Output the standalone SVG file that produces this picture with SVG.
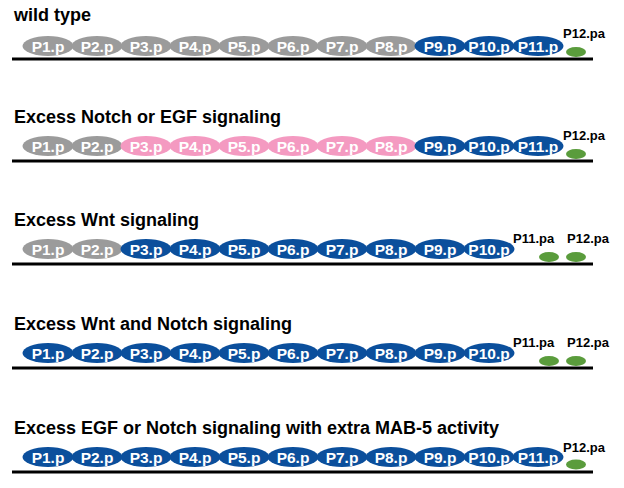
<svg xmlns="http://www.w3.org/2000/svg" width="624" height="488" viewBox="0 0 624 488">
<style>
.t{font-family:"Liberation Sans",Arial,sans-serif;font-weight:bold;font-size:18px;fill:#000}
.c text{font-family:"Liberation Sans",Arial,sans-serif;font-weight:bold;font-size:15.5px;fill:#fff;text-anchor:middle}
.g ellipse{fill:#9b9b9b}
.k ellipse{fill:#f49ac1}
.b ellipse{fill:#0b4f9c}
.gr{fill:#5a9c3c}
.lb{font-family:"Liberation Sans",Arial,sans-serif;font-weight:bold;font-size:13px;fill:#000}
.ln{stroke:#000;stroke-width:3}
</style>
<rect width="624" height="488" fill="#fff"/>
<g id="baselines">
<line class="ln" x1="12" y1="59" x2="593" y2="59"/>
<line class="ln" x1="12" y1="161" x2="593" y2="161"/>
<line class="ln" x1="12" y1="264" x2="593" y2="264"/>
<line class="ln" x1="12" y1="368" x2="593" y2="368"/>
<line class="ln" x1="12" y1="472" x2="593" y2="472"/>
</g>
<g id="row1">
<text class="t" x="14" y="21">wild type</text>
<g class="c g" id="r1-p1"><ellipse cx="48" cy="46" rx="25.5" ry="10"/><text x="48" y="51.5">P1.p</text></g>
<g class="c g" id="r1-p2"><ellipse cx="97" cy="46" rx="25.5" ry="10"/><text x="97" y="51.5">P2.p</text></g>
<g class="c g" id="r1-p3"><ellipse cx="146" cy="46" rx="25.5" ry="10"/><text x="146" y="51.5">P3.p</text></g>
<g class="c g" id="r1-p4"><ellipse cx="195" cy="46" rx="25.5" ry="10"/><text x="195" y="51.5">P4.p</text></g>
<g class="c g" id="r1-p5"><ellipse cx="244" cy="46" rx="25.5" ry="10"/><text x="244" y="51.5">P5.p</text></g>
<g class="c g" id="r1-p6"><ellipse cx="293" cy="46" rx="25.5" ry="10"/><text x="293" y="51.5">P6.p</text></g>
<g class="c g" id="r1-p7"><ellipse cx="342" cy="46" rx="25.5" ry="10"/><text x="342" y="51.5">P7.p</text></g>
<g class="c g" id="r1-p8"><ellipse cx="391" cy="46" rx="25.5" ry="10"/><text x="391" y="51.5">P8.p</text></g>
<g class="c b" id="r1-p9"><ellipse cx="440" cy="46" rx="25.5" ry="10"/><text x="440" y="51.5">P9.p</text></g>
<g class="c b" id="r1-p10"><ellipse cx="489" cy="46" rx="25.5" ry="10"/><text x="489" y="51.5">P10.p</text></g>
<g class="c b" id="r1-p11"><ellipse cx="538" cy="46" rx="25.5" ry="10"/><text x="538" y="51.5">P11.p</text></g>
<g id="r1-p12pa"><ellipse class="gr" cx="576" cy="52" rx="10" ry="5"/><text class="lb" x="563" y="38">P12.pa</text></g>
</g>
<g id="row2">
<text class="t" x="14" y="123">Excess Notch or EGF signaling</text>
<g class="c g" id="r2-p1"><ellipse cx="48" cy="146" rx="25.5" ry="10"/><text x="48" y="151.5">P1.p</text></g>
<g class="c g" id="r2-p2"><ellipse cx="97" cy="146" rx="25.5" ry="10"/><text x="97" y="151.5">P2.p</text></g>
<g class="c k" id="r2-p3"><ellipse cx="146" cy="146" rx="25.5" ry="10"/><text x="146" y="151.5">P3.p</text></g>
<g class="c k" id="r2-p4"><ellipse cx="195" cy="146" rx="25.5" ry="10"/><text x="195" y="151.5">P4.p</text></g>
<g class="c k" id="r2-p5"><ellipse cx="244" cy="146" rx="25.5" ry="10"/><text x="244" y="151.5">P5.p</text></g>
<g class="c k" id="r2-p6"><ellipse cx="293" cy="146" rx="25.5" ry="10"/><text x="293" y="151.5">P6.p</text></g>
<g class="c k" id="r2-p7"><ellipse cx="342" cy="146" rx="25.5" ry="10"/><text x="342" y="151.5">P7.p</text></g>
<g class="c k" id="r2-p8"><ellipse cx="391" cy="146" rx="25.5" ry="10"/><text x="391" y="151.5">P8.p</text></g>
<g class="c b" id="r2-p9"><ellipse cx="440" cy="146" rx="25.5" ry="10"/><text x="440" y="151.5">P9.p</text></g>
<g class="c b" id="r2-p10"><ellipse cx="489" cy="146" rx="25.5" ry="10"/><text x="489" y="151.5">P10.p</text></g>
<g class="c b" id="r2-p11"><ellipse cx="538" cy="146" rx="25.5" ry="10"/><text x="538" y="151.5">P11.p</text></g>
<g id="r2-p12pa"><ellipse class="gr" cx="576" cy="154" rx="10" ry="5"/><text class="lb" x="563" y="140">P12.pa</text></g>
</g>
<g id="row3">
<text class="t" x="14" y="226">Excess Wnt signaling</text>
<g class="c g" id="r3-p1"><ellipse cx="48" cy="249" rx="25.5" ry="10"/><text x="48" y="254.5">P1.p</text></g>
<g class="c g" id="r3-p2"><ellipse cx="97" cy="249" rx="25.5" ry="10"/><text x="97" y="254.5">P2.p</text></g>
<g class="c b" id="r3-p3"><ellipse cx="146" cy="249" rx="25.5" ry="10"/><text x="146" y="254.5">P3.p</text></g>
<g class="c b" id="r3-p4"><ellipse cx="195" cy="249" rx="25.5" ry="10"/><text x="195" y="254.5">P4.p</text></g>
<g class="c b" id="r3-p5"><ellipse cx="244" cy="249" rx="25.5" ry="10"/><text x="244" y="254.5">P5.p</text></g>
<g class="c b" id="r3-p6"><ellipse cx="293" cy="249" rx="25.5" ry="10"/><text x="293" y="254.5">P6.p</text></g>
<g class="c b" id="r3-p7"><ellipse cx="342" cy="249" rx="25.5" ry="10"/><text x="342" y="254.5">P7.p</text></g>
<g class="c b" id="r3-p8"><ellipse cx="391" cy="249" rx="25.5" ry="10"/><text x="391" y="254.5">P8.p</text></g>
<g class="c b" id="r3-p9"><ellipse cx="440" cy="249" rx="25.5" ry="10"/><text x="440" y="254.5">P9.p</text></g>
<g class="c b" id="r3-p10"><ellipse cx="489" cy="249" rx="25.5" ry="10"/><text x="489" y="254.5">P10.p</text></g>
<g id="r3-p11pa"><ellipse class="gr" cx="549" cy="257" rx="10" ry="5"/><text class="lb" x="513" y="243">P11.pa</text></g>
<g id="r3-p12pa"><ellipse class="gr" cx="576" cy="257" rx="10" ry="5"/><text class="lb" x="567" y="243">P12.pa</text></g>
</g>
<g id="row4">
<text class="t" x="14" y="330">Excess Wnt and Notch signaling</text>
<g class="c b" id="r4-p1"><ellipse cx="48" cy="353" rx="25.5" ry="10"/><text x="48" y="358.5">P1.p</text></g>
<g class="c b" id="r4-p2"><ellipse cx="97" cy="353" rx="25.5" ry="10"/><text x="97" y="358.5">P2.p</text></g>
<g class="c b" id="r4-p3"><ellipse cx="146" cy="353" rx="25.5" ry="10"/><text x="146" y="358.5">P3.p</text></g>
<g class="c b" id="r4-p4"><ellipse cx="195" cy="353" rx="25.5" ry="10"/><text x="195" y="358.5">P4.p</text></g>
<g class="c b" id="r4-p5"><ellipse cx="244" cy="353" rx="25.5" ry="10"/><text x="244" y="358.5">P5.p</text></g>
<g class="c b" id="r4-p6"><ellipse cx="293" cy="353" rx="25.5" ry="10"/><text x="293" y="358.5">P6.p</text></g>
<g class="c b" id="r4-p7"><ellipse cx="342" cy="353" rx="25.5" ry="10"/><text x="342" y="358.5">P7.p</text></g>
<g class="c b" id="r4-p8"><ellipse cx="391" cy="353" rx="25.5" ry="10"/><text x="391" y="358.5">P8.p</text></g>
<g class="c b" id="r4-p9"><ellipse cx="440" cy="353" rx="25.5" ry="10"/><text x="440" y="358.5">P9.p</text></g>
<g class="c b" id="r4-p10"><ellipse cx="489" cy="353" rx="25.5" ry="10"/><text x="489" y="358.5">P10.p</text></g>
<g id="r4-p11pa"><ellipse class="gr" cx="549" cy="361" rx="10" ry="5"/><text class="lb" x="513" y="347">P11.pa</text></g>
<g id="r4-p12pa"><ellipse class="gr" cx="576" cy="361" rx="10" ry="5"/><text class="lb" x="567" y="347">P12.pa</text></g>
</g>
<g id="row5">
<text class="t" x="14" y="434">Excess EGF or Notch signaling with extra MAB-5 activity</text>
<g class="c b" id="r5-p1"><ellipse cx="48" cy="457" rx="25.5" ry="10"/><text x="48" y="462.5">P1.p</text></g>
<g class="c b" id="r5-p2"><ellipse cx="97" cy="457" rx="25.5" ry="10"/><text x="97" y="462.5">P2.p</text></g>
<g class="c b" id="r5-p3"><ellipse cx="146" cy="457" rx="25.5" ry="10"/><text x="146" y="462.5">P3.p</text></g>
<g class="c b" id="r5-p4"><ellipse cx="195" cy="457" rx="25.5" ry="10"/><text x="195" y="462.5">P4.p</text></g>
<g class="c b" id="r5-p5"><ellipse cx="244" cy="457" rx="25.5" ry="10"/><text x="244" y="462.5">P5.p</text></g>
<g class="c b" id="r5-p6"><ellipse cx="293" cy="457" rx="25.5" ry="10"/><text x="293" y="462.5">P6.p</text></g>
<g class="c b" id="r5-p7"><ellipse cx="342" cy="457" rx="25.5" ry="10"/><text x="342" y="462.5">P7.p</text></g>
<g class="c b" id="r5-p8"><ellipse cx="391" cy="457" rx="25.5" ry="10"/><text x="391" y="462.5">P8.p</text></g>
<g class="c b" id="r5-p9"><ellipse cx="440" cy="457" rx="25.5" ry="10"/><text x="440" y="462.5">P9.p</text></g>
<g class="c b" id="r5-p10"><ellipse cx="489" cy="457" rx="25.5" ry="10"/><text x="489" y="462.5">P10.p</text></g>
<g class="c b" id="r5-p11"><ellipse cx="538" cy="457" rx="25.5" ry="10"/><text x="538" y="462.5">P11.p</text></g>
<g id="r5-p12pa"><ellipse class="gr" cx="576" cy="464.5" rx="10" ry="5"/><text class="lb" x="563" y="452">P12.pa</text></g>
</g>
</svg>
